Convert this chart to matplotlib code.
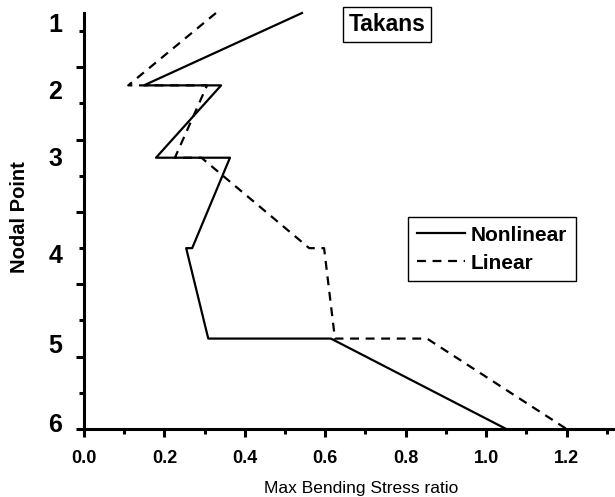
"""Max bending stress ratio along the pile, nonlinear vs linear analysis."""

import matplotlib
matplotlib.use('Agg')
import matplotlib.pyplot as plt
import matplotlib.transforms as mtransforms

# Elevation of each nodal point above node 6 (node 1 at the top)
node_names = ['1', '2', '3', '4', '5', '6']
node_label_elev = [5.49, 4.56, 3.63, 2.30, 1.05, -0.04]

# Element end values: each inner node carries the value of the element
# above it and of the element below it.
path_elev = [5.75, 4.75, 4.75, 3.75, 3.75, 2.5, 2.5, 1.25, 1.25, 0.0]
nonlinear_ratio = [0.542, 0.149, 0.341, 0.179, 0.363, 0.269, 0.254, 0.309, 0.614, 1.05]
linear_ratio = [0.328, 0.110, 0.306, 0.226, 0.292, 0.560, 0.597, 0.624, 0.853, 1.20]

x_ticks = [0.0, 0.2, 0.4, 0.6, 0.8, 1.0, 1.2]

plt.rcParams['font.family'] = ['Liberation Sans', 'DejaVu Sans']
plt.rcParams['font.weight'] = 'bold'

fig = plt.figure(figsize=(6.15, 4.97), dpi=100)
ax = fig.add_axes([0.1366, 0.1368, 0.9154, 0.8370])

ax.plot(nonlinear_ratio, path_elev, '-k', lw=1.6, label='Nonlinear',
        clip_on=False)
ax.plot(linear_ratio, path_elev, color='k', lw=1.6, linestyle=(0, (4, 3)),
        label='Linear', clip_on=False)

ax.set_xlim(0, 1.4)
ax.set_ylim(0, 5.75)
ax.set_xticks(x_ticks)
ax.set_xticklabels(['%.1f' % t for t in x_ticks])
ax.set_xticks([0.1, 0.3, 0.5, 0.7, 0.9, 1.1, 1.3], minor=True)
ax.set_yticks([0, 1, 2, 3, 4, 5])
ax.set_yticklabels([])
ax.set_yticks([0.5, 1.5, 2.5, 3.5, 4.5, 5.5], minor=True)

for side in ['top', 'right']:
    ax.spines[side].set_visible(False)
for side in ['left', 'bottom']:
    ax.spines[side].set_linewidth(2.2)

ax.tick_params(axis='both', which='major', direction='out', length=6,
               width=2.2, labelsize=13, pad=9)
ax.tick_params(axis='both', which='minor', direction='out', length=3.5,
               width=2.2)

# node numbers beside the vertical axis
trans = mtransforms.blended_transform_factory(ax.transAxes, ax.transData)
for name, y in zip(node_names, node_label_elev):
    ax.text(-0.039, y, name, transform=trans, ha='right', va='baseline',
            fontsize=18, fontweight='bold', clip_on=False)

ax.set_xlabel('Max Bending Stress ratio', fontsize=12.5, fontweight='normal')
ax.xaxis.set_label_coords(0.492, -0.125)
ax.set_ylabel('Nodal Point', fontsize=14.5, fontweight='bold')
ax.yaxis.set_label_coords(-0.098, 0.51)

ax.text(0.754, 5.59, 'Takans', ha='center', va='center', fontsize=16.5,
        fontweight='bold',
        bbox=dict(boxstyle='square,pad=0.25', facecolor='white',
                  edgecolor='black', linewidth=1.0))

leg = ax.legend(loc='upper left', bbox_to_anchor=(0.5755, 0.5096),
                borderaxespad=0, fancybox=False, framealpha=1,
                edgecolor='black', handlelength=2.3,
                handletextpad=0.3, labelspacing=0.42, borderpad=0.42,
                prop={'weight': 'bold', 'size': 15})
leg.get_frame().set_linewidth(1.0)

fig.savefig('out.png', dpi=100)
